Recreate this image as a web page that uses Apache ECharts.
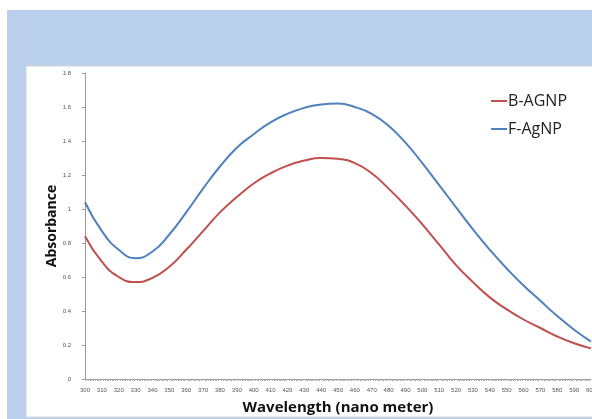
<!DOCTYPE html>
<html>
<head>
<meta charset="utf-8">
<script src="https://cdn.jsdelivr.net/npm/echarts@6/dist/echarts.min.js"></script>
<style>
  html, body { margin: 0; padding: 0; background: #ffffff; }
  #chart { width: 592px; height: 419px; }
</style>
</head>
<body>
<div id="chart"></div>
<script>
// Wavelength sampling (nm)
const wavelengths = [300, 310, 320, 330, 340, 350, 360, 370, 380, 390, 400,
                     410, 420, 430, 440, 450, 460, 470, 480, 490, 500,
                     510, 520, 530, 540, 550, 560, 570, 580, 590, 600];

// Absorbance of the two silver nanoparticle samples
const bAgnp = [0.84, 0.69, 0.60, 0.57, 0.595, 0.66, 0.76, 0.87, 0.98, 1.07, 1.15,
               1.21, 1.255, 1.285, 1.30, 1.295, 1.27, 1.21, 1.12, 1.02, 0.91,
               0.79, 0.67, 0.57, 0.48, 0.41, 0.35, 0.30, 0.25, 0.21, 0.18];
const fAgnp = [1.04, 0.87, 0.76, 0.71, 0.75, 0.85, 0.98, 1.12, 1.25, 1.36, 1.44,
               1.51, 1.56, 1.595, 1.615, 1.62, 1.60, 1.56, 1.49, 1.39, 1.27,
               1.14, 1.01, 0.88, 0.76, 0.65, 0.55, 0.46, 0.37, 0.29, 0.22];

const seriesNames = ['B-AGNP', 'F-AgNP'];
const seriesColors = ['#C0504D', '#4F81BD'];

const toPairs = (ys) => wavelengths.map((x, i) => [x, ys[i]]);

const chart = echarts.init(document.getElementById('chart'), null, { renderer: 'canvas' });

chart.setOption({
  animation: false,
  backgroundColor: '#ffffff',
  graphic: [
    { type: 'rect', z: -10, shape: { x: 7, y: 10, width: 585, height: 409 },
      style: { fill: '#BACFEB' }, silent: true },
    { type: 'rect', z: -9, shape: { x: 26, y: 66, width: 570, height: 351 },
      style: { fill: '#ffffff', stroke: '#d4d4d4', lineWidth: 1 }, silent: true }
  ],
  grid: { left: 85, right: 1, top: 73, bottom: 40, containLabel: false, outerBoundsMode: 'none' },
  legend: {
    right: 20, top: 88, orient: 'vertical', itemGap: 12,
    itemWidth: 16, itemHeight: 2, icon: 'rect',
    textStyle: { fontFamily: 'Open Sans', fontSize: 16, color: '#222222', padding: [0, 0, 0, -4] },
    data: seriesNames
  },
  xAxis: {
    type: 'value', min: 300, max: 600, interval: 10,
    name: 'Wavelength (nano meter)', nameLocation: 'middle', nameGap: 21, nameMoveOverlap: false,
    nameTextStyle: { fontFamily: 'Open Sans', fontWeight: 'bold', fontSize: 15, color: '#111111' },
    axisLine: { lineStyle: { color: '#999999', width: 1 } },
    axisTick: { show: false },
    minorTick: { show: true, splitNumber: 10, length: 2, lineStyle: { color: '#aaaaaa' } },
    axisLabel: { fontFamily: 'Liberation Sans', fontSize: 6, color: '#555555', margin: 8 },
    splitLine: { show: false }
  },
  yAxis: {
    type: 'value', min: 0, max: 1.8, interval: 0.2,
    name: 'Absorbance', nameLocation: 'middle', nameGap: 26, nameRotate: 90, nameMoveOverlap: false,
    nameTextStyle: { fontFamily: 'Open Sans', fontWeight: 'bold', fontSize: 14, color: '#111111' },
    axisLine: { show: true, lineStyle: { color: '#999999', width: 1 } },
    axisTick: { show: true, length: 3, lineStyle: { color: '#999999' } },
    axisLabel: { fontFamily: 'Liberation Sans', fontSize: 6, color: '#555555', margin: 14 },
    splitLine: { show: false }
  },
  series: [
    { name: seriesNames[0], type: 'line', data: toPairs(bAgnp), smooth: 0.5, showSymbol: false,
      lineStyle: { color: seriesColors[0], width: 2 }, itemStyle: { color: seriesColors[0] } },
    { name: seriesNames[1], type: 'line', data: toPairs(fAgnp), smooth: 0.5, showSymbol: false,
      lineStyle: { color: seriesColors[1], width: 2 }, itemStyle: { color: seriesColors[1] } }
  ]
});
</script>
</body>
</html>
